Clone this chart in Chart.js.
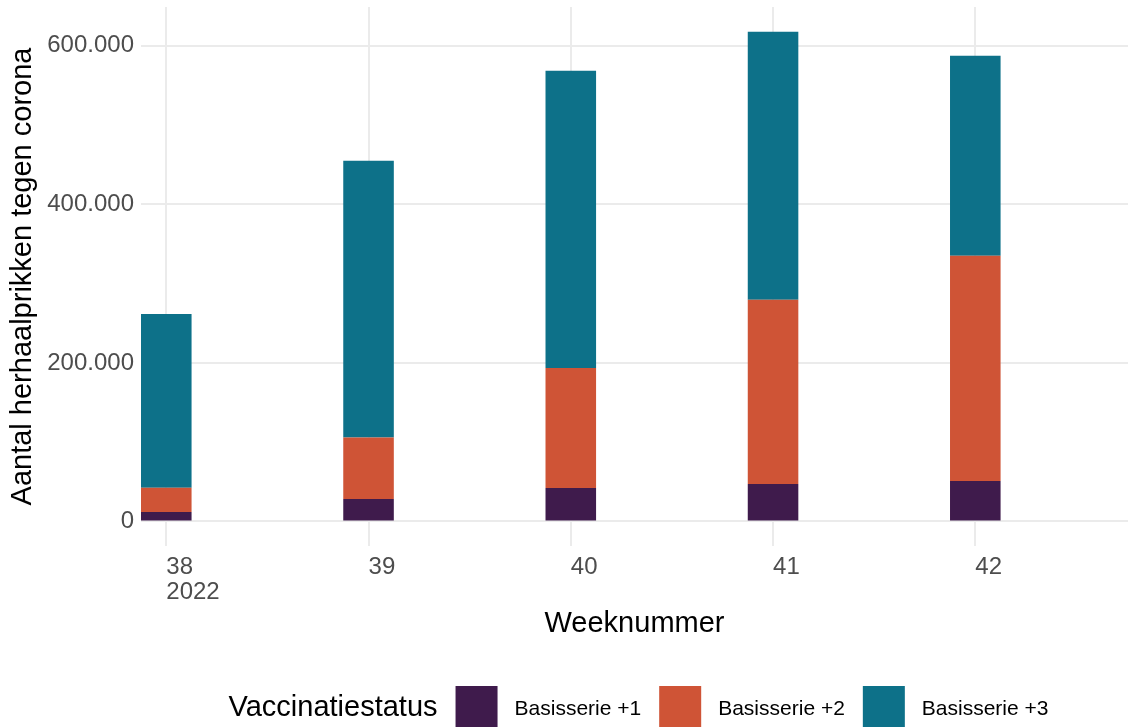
<!DOCTYPE html>
<html>
<head>
<meta charset="UTF-8">
<title>Herhaalprikken per week</title>
<script src="https://cdn.jsdelivr.net/npm/chart.js"></script>
<style>
body { margin: 0; background: #fff; }
#wrap { width: 1128px; height: 727px; }
</style>
</head>
<body>
<div id="wrap"><canvas id="myChart"></canvas></div>
<script>
const weeks = [38, 39, 40, 41, 42];
const weekLabels = [['38', '2022'], '39', '40', '41', '42'];
const seriesNames = ['Basisserie +1', 'Basisserie +2', 'Basisserie +3'];
const basis1 = [12000, 28400, 42300, 47300, 51100];
const basis2 = [30700, 77400, 151400, 232200, 283900];
const basis3 = [219100, 349200, 374800, 338200, 252400];
const yTicks = [0, 200000, 400000, 600000];
const yTickLabels = ['0', '200.000', '400.000', '600.000'];
const legendTitle = 'Vaccinatiestatus';

const colors = ['#3f1b4c', '#cf5436', '#0d7189'];
const fontFamily = '"Liberation Sans", Arial, sans-serif';

function toPoints(vals) {
  return weeks.map((w, i) => ({ x: w, y: vals[i] }));
}

// legenda onderaan, titel links van de vakjes (zoals ggplot)
const bottomLegend = {
  id: 'bottomLegend',
  afterDraw(chart) {
    const ctx = chart.ctx;
    const area = chart.chartArea;
    const box = 42, cy = 708;
    ctx.save();
    ctx.textBaseline = 'middle';
    ctx.textAlign = 'left';
    ctx.font = '29px ' + fontFamily;
    const titleW = ctx.measureText(legendTitle).width;
    ctx.font = '21px ' + fontFamily;
    const ws = chart.data.datasets.map(ds => ctx.measureText(ds.label).width);
    let total = titleW + 18;
    ws.forEach((w, i) => { total += box + 17 + w + (i < ws.length - 1 ? 18 : 0); });
    let x = (area.left + area.right) / 2 - total / 2 + 4;

    ctx.fillStyle = '#000';
    ctx.font = '29px ' + fontFamily;
    ctx.fillText(legendTitle, x, cy);
    x += titleW + 18;

    ctx.font = '21px ' + fontFamily;
    chart.data.datasets.forEach((ds, i) => {
      ctx.fillStyle = ds.backgroundColor;
      ctx.fillRect(x, cy - 22, box, box);
      x += box + 17;
      ctx.fillStyle = '#000';
      ctx.fillText(ds.label, x, cy + 1);
      x += ws[i] + 18;
    });
    ctx.restore();
  }
};

const ctx = document.getElementById('myChart').getContext('2d');
const myChart = new Chart(ctx, {
  type: 'bar',
  data: {
    datasets: [
      { label: seriesNames[0], data: toPoints(basis1), backgroundColor: colors[0] },
      { label: seriesNames[1], data: toPoints(basis2), backgroundColor: colors[1] },
      { label: seriesNames[2], data: toPoints(basis3), backgroundColor: colors[2] }
    ]
  },
  options: {
    responsive: true,
    maintainAspectRatio: false,
    animation: false,
    datasets: {
      bar: { barPercentage: 0.25, categoryPercentage: 1, borderWidth: 0 }
    },
    layout: { padding: { top: 7, right: 0, bottom: 63, left: 0 } },
    plugins: {
      legend: { display: false },
      tooltip: { enabled: false }
    },
    scales: {
      x: {
        type: 'linear',
        stacked: true,
        offset: false,
        min: 37.875,
        max: 42.755,
        grid: { color: '#ebebeb', lineWidth: 2, drawTicks: false, offset: false },
        border: { display: false },
        afterBuildTicks: (scale) => { scale.ticks = weeks.map(v => ({ value: v })); },
        afterFit: (scale) => { scale.height = 118; },
        ticks: {
          align: 'start',
          padding: 9,
          color: '#4d4d4d',
          font: { family: fontFamily, size: 24, lineHeight: 1.05 },
          callback: (value) => weekLabels[weeks.indexOf(value)]
        },
        title: {
          display: true,
          text: 'Weeknummer',
          color: '#000',
          font: { family: fontFamily, size: 29 },
          padding: { top: 0, bottom: 23 }
        }
      },
      y: {
        stacked: true,
        min: -30900,
        max: 648800,
        grid: { color: '#ebebeb', lineWidth: 2, drawTicks: false },
        border: { display: false },
        afterBuildTicks: (scale) => { scale.ticks = yTicks.map(v => ({ value: v })); },
        afterFit: (scale) => {
          scale.width = 141;
          scale.paddingTop = 0;
          scale.paddingBottom = 0;
        },
        ticks: {
          padding: 7,
          color: '#4d4d4d',
          font: { family: fontFamily, size: 24 },
          callback: (value) => yTickLabels[yTicks.indexOf(value)]
        },
        title: {
          display: true,
          text: 'Aantal herhaalprikken tegen corona',
          color: '#000',
          font: { family: fontFamily, size: 29 },
          padding: { top: 6, bottom: 0 }
        }
      }
    }
  },
  plugins: [bottomLegend]
});
</script>
</body>
</html>
